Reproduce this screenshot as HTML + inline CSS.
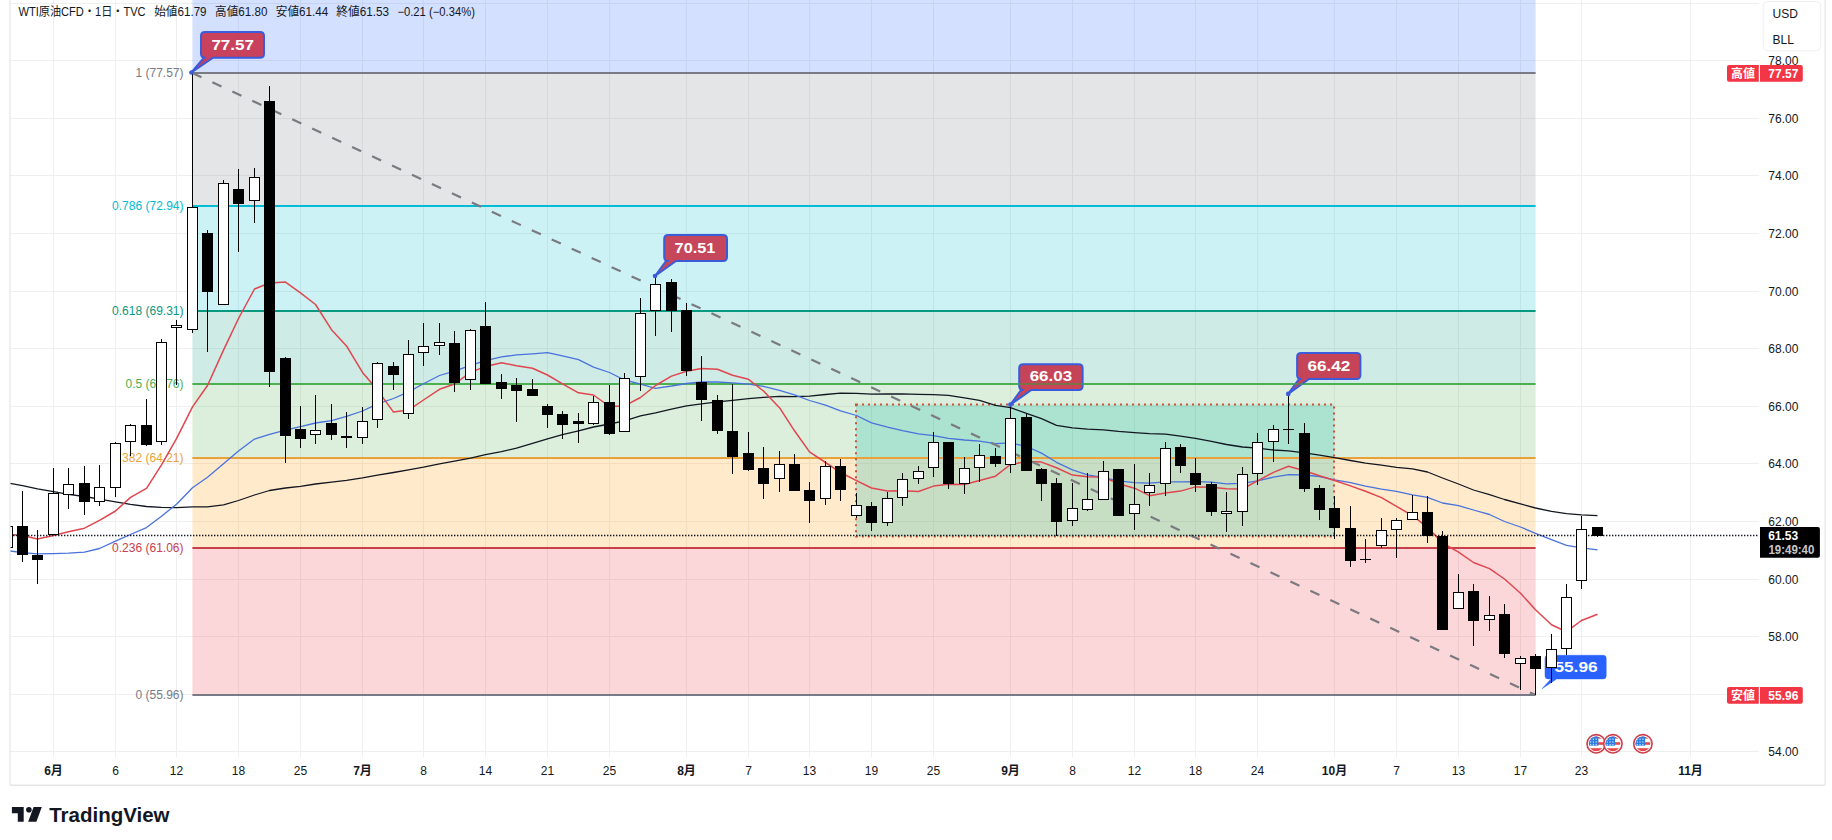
<!DOCTYPE html><html><head><meta charset="utf-8"><title>WTI原油CFD</title><style>html,body{margin:0;padding:0;background:#fff}body{width:1832px;height:840px;overflow:hidden}svg{display:block}text{font-family:"Liberation Sans","Noto Sans CJK JP",sans-serif}</style></head><body>
<svg width="1832" height="840" viewBox="0 0 1832 840">
<rect width="1832" height="840" fill="#fff"/>
<defs><clipPath id="pane"><rect x="10" y="0" width="1749" height="757"/></clipPath></defs>
<g clip-path="url(#pane)">
<line x1="53.5" y1="0" x2="53.5" y2="757" stroke="#efefef" stroke-width="1"/>
<line x1="115.5" y1="0" x2="115.5" y2="757" stroke="#efefef" stroke-width="1"/>
<line x1="176.5" y1="0" x2="176.5" y2="757" stroke="#efefef" stroke-width="1"/>
<line x1="238.5" y1="0" x2="238.5" y2="757" stroke="#efefef" stroke-width="1"/>
<line x1="300.5" y1="0" x2="300.5" y2="757" stroke="#efefef" stroke-width="1"/>
<line x1="362.5" y1="0" x2="362.5" y2="757" stroke="#efefef" stroke-width="1"/>
<line x1="423.5" y1="0" x2="423.5" y2="757" stroke="#efefef" stroke-width="1"/>
<line x1="485.5" y1="0" x2="485.5" y2="757" stroke="#efefef" stroke-width="1"/>
<line x1="547.5" y1="0" x2="547.5" y2="757" stroke="#efefef" stroke-width="1"/>
<line x1="609.5" y1="0" x2="609.5" y2="757" stroke="#efefef" stroke-width="1"/>
<line x1="686.5" y1="0" x2="686.5" y2="757" stroke="#efefef" stroke-width="1"/>
<line x1="748.5" y1="0" x2="748.5" y2="757" stroke="#efefef" stroke-width="1"/>
<line x1="809.5" y1="0" x2="809.5" y2="757" stroke="#efefef" stroke-width="1"/>
<line x1="871.5" y1="0" x2="871.5" y2="757" stroke="#efefef" stroke-width="1"/>
<line x1="933.5" y1="0" x2="933.5" y2="757" stroke="#efefef" stroke-width="1"/>
<line x1="1010.5" y1="0" x2="1010.5" y2="757" stroke="#efefef" stroke-width="1"/>
<line x1="1072.5" y1="0" x2="1072.5" y2="757" stroke="#efefef" stroke-width="1"/>
<line x1="1134.5" y1="0" x2="1134.5" y2="757" stroke="#efefef" stroke-width="1"/>
<line x1="1195.5" y1="0" x2="1195.5" y2="757" stroke="#efefef" stroke-width="1"/>
<line x1="1257.5" y1="0" x2="1257.5" y2="757" stroke="#efefef" stroke-width="1"/>
<line x1="1334.5" y1="0" x2="1334.5" y2="757" stroke="#efefef" stroke-width="1"/>
<line x1="1396.5" y1="0" x2="1396.5" y2="757" stroke="#efefef" stroke-width="1"/>
<line x1="1458.5" y1="0" x2="1458.5" y2="757" stroke="#efefef" stroke-width="1"/>
<line x1="1520.5" y1="0" x2="1520.5" y2="757" stroke="#efefef" stroke-width="1"/>
<line x1="1581.5" y1="0" x2="1581.5" y2="757" stroke="#efefef" stroke-width="1"/>
<line x1="1690.5" y1="0" x2="1690.5" y2="757" stroke="#efefef" stroke-width="1"/>
<line x1="10" y1="751.5" x2="1759" y2="751.5" stroke="#efefef" stroke-width="1"/>
<line x1="10" y1="694.5" x2="1759" y2="694.5" stroke="#efefef" stroke-width="1"/>
<line x1="10" y1="636.5" x2="1759" y2="636.5" stroke="#efefef" stroke-width="1"/>
<line x1="10" y1="579.5" x2="1759" y2="579.5" stroke="#efefef" stroke-width="1"/>
<line x1="10" y1="521.5" x2="1759" y2="521.5" stroke="#efefef" stroke-width="1"/>
<line x1="10" y1="463.5" x2="1759" y2="463.5" stroke="#efefef" stroke-width="1"/>
<line x1="10" y1="406.5" x2="1759" y2="406.5" stroke="#efefef" stroke-width="1"/>
<line x1="10" y1="348.5" x2="1759" y2="348.5" stroke="#efefef" stroke-width="1"/>
<line x1="10" y1="291.5" x2="1759" y2="291.5" stroke="#efefef" stroke-width="1"/>
<line x1="10" y1="233.5" x2="1759" y2="233.5" stroke="#efefef" stroke-width="1"/>
<line x1="10" y1="175.5" x2="1759" y2="175.5" stroke="#efefef" stroke-width="1"/>
<line x1="10" y1="118.5" x2="1759" y2="118.5" stroke="#efefef" stroke-width="1"/>
<line x1="10" y1="60.5" x2="1759" y2="60.5" stroke="#efefef" stroke-width="1"/>
<line x1="10" y1="3.5" x2="1759" y2="3.5" stroke="#efefef" stroke-width="1"/>
<rect x="192.4" y="0" width="1343.2" height="73.00" fill="rgba(41,98,255,0.2)"/>
<rect x="192.4" y="73" width="1343.2" height="133.00" fill="rgba(120,123,134,0.2)"/>
<rect x="192.4" y="206" width="1343.2" height="105.00" fill="rgba(0,188,212,0.2)"/>
<rect x="192.4" y="311" width="1343.2" height="73.00" fill="rgba(8,153,129,0.2)"/>
<rect x="192.4" y="384" width="1343.2" height="74.00" fill="rgba(76,175,80,0.2)"/>
<rect x="192.4" y="458" width="1343.2" height="90.00" fill="rgba(255,152,0,0.2)"/>
<rect x="192.4" y="548" width="1343.2" height="147.00" fill="rgba(242,54,69,0.2)"/>
<rect x="856" y="404.6" width="478" height="131.8" fill="rgba(0,180,170,0.22)"/>
<line x1="192.4" y1="73" x2="1535.6" y2="73" stroke="#787b86" stroke-width="2"/>
<line x1="192.4" y1="206" x2="1535.6" y2="206" stroke="#00bcd4" stroke-width="2"/>
<line x1="192.4" y1="311" x2="1535.6" y2="311" stroke="#089981" stroke-width="2"/>
<line x1="192.4" y1="384" x2="1535.6" y2="384" stroke="#4caf50" stroke-width="2"/>
<line x1="192.4" y1="458" x2="1535.6" y2="458" stroke="#e9a13b" stroke-width="2"/>
<line x1="192.4" y1="548" x2="1535.6" y2="548" stroke="#c8404c" stroke-width="2"/>
<line x1="192.4" y1="695" x2="1535.6" y2="695" stroke="#787b86" stroke-width="2"/>
<text x="183.5" y="77.2" font-size="12" fill="#787b86" text-anchor="end">1 (77.57)</text>
<text x="183.5" y="210.2" font-size="12" fill="#00bcd4" text-anchor="end">0.786 (72.94)</text>
<text x="183.5" y="315.2" font-size="12" fill="#089981" text-anchor="end">0.618 (69.31)</text>
<text x="183.5" y="388.2" font-size="12" fill="#4caf50" text-anchor="end">0.5 (66.76)</text>
<text x="183.5" y="462.2" font-size="12" fill="#e9a13b" text-anchor="end">0.382 (64.21)</text>
<text x="183.5" y="552.2" font-size="12" fill="#c8404c" text-anchor="end">0.236 (61.06)</text>
<text x="183.5" y="699.2" font-size="12" fill="#787b86" text-anchor="end">0 (55.96)</text>
<rect x="856" y="404.6" width="478" height="131.8" fill="none" stroke="#cf4f3a" stroke-width="2" stroke-dasharray="2 4"/>
<polyline points="10.0,483.4 22.5,485.7 37.5,488.9 53.5,491.7 68.5,494.3 84.5,496.5 99.5,499.2 115.5,501.9 130.5,504.4 146.5,506.5 161.5,507.4 176.5,507.6 192.5,506.8 207.5,506.9 223.5,504.8 238.5,500.5 254.5,495.0 269.5,490.5 285.5,488.0 300.5,486.3 315.5,484.0 331.5,482.2 346.5,480.4 362.5,477.9 377.5,475.1 393.5,472.5 408.5,469.9 423.5,467.2 439.5,463.9 454.5,461.2 470.5,458.2 485.5,454.7 501.5,451.6 516.5,448.1 532.5,443.3 547.5,438.8 562.5,434.6 578.5,430.9 593.5,427.0 609.5,424.0 624.5,420.8 640.5,415.9 655.5,412.9 671.5,409.1 686.5,405.9 701.5,403.9 717.5,401.9 732.5,400.3 748.5,398.7 763.5,397.3 779.5,396.4 794.5,396.6 809.5,396.2 825.5,394.5 840.5,393.1 856.5,393.3 871.5,394.1 887.5,394.0 902.5,393.8 918.5,394.4 933.5,394.7 948.5,395.4 964.5,397.9 979.5,400.4 995.5,405.3 1010.5,407.7 1026.5,413.3 1041.5,418.7 1056.5,425.3 1072.5,427.9 1087.5,429.1 1103.5,429.8 1118.5,431.4 1134.5,432.7 1149.5,433.6 1165.5,434.2 1180.5,436.1 1195.5,438.3 1211.5,441.3 1226.5,444.5 1242.5,447.0 1257.5,448.1 1273.5,450.0 1288.5,450.9 1304.5,452.9 1319.5,455.1 1334.5,457.7 1350.5,460.5 1365.5,463.1 1381.5,465.1 1396.5,467.4 1412.5,468.9 1427.5,472.0 1442.5,478.0 1458.5,484.0 1473.5,490.0 1489.5,494.7 1504.5,499.5 1520.5,503.9 1535.5,508.0 1551.5,511.4 1566.5,513.6 1581.5,514.9 1597.5,515.7" fill="none" stroke="#131722" stroke-width="1.3" stroke-linejoin="round"/>
<polyline points="10.0,551.0 22.5,552.6 37.5,553.9 53.5,553.7 68.5,553.2 84.5,552.1 99.5,548.5 115.5,541.2 130.5,534.5 146.5,527.6 161.5,516.2 176.5,504.2 192.5,487.7 207.5,477.3 223.5,463.8 238.5,451.0 254.5,439.1 269.5,434.4 285.5,430.2 300.5,426.7 315.5,423.0 331.5,420.7 346.5,416.4 362.5,411.0 377.5,403.9 393.5,398.5 408.5,391.9 423.5,383.8 439.5,375.5 454.5,371.2 470.5,365.3 485.5,360.7 501.5,356.9 516.5,354.9 532.5,353.8 547.5,352.6 562.5,355.8 578.5,359.6 593.5,367.1 609.5,372.5 624.5,380.0 640.5,384.2 655.5,388.3 671.5,386.0 686.5,383.5 701.5,382.0 717.5,382.0 732.5,382.8 748.5,384.1 763.5,386.4 779.5,390.3 794.5,394.8 809.5,400.5 825.5,405.1 840.5,410.8 856.5,415.5 871.5,422.9 887.5,427.2 902.5,430.7 918.5,433.8 933.5,435.6 948.5,438.3 964.5,440.0 979.5,441.2 995.5,443.6 1010.5,442.9 1026.5,446.5 1041.5,453.1 1056.5,462.3 1072.5,469.9 1087.5,474.8 1103.5,477.6 1118.5,480.8 1134.5,482.6 1149.5,483.2 1165.5,481.9 1180.5,481.9 1195.5,481.7 1211.5,482.1 1226.5,483.8 1242.5,483.3 1257.5,480.8 1273.5,477.2 1288.5,474.6 1304.5,475.0 1319.5,476.5 1334.5,479.8 1350.5,482.7 1365.5,486.2 1381.5,489.1 1396.5,491.3 1412.5,494.9 1427.5,497.4 1442.5,503.0 1458.5,505.7 1473.5,510.0 1489.5,514.5 1504.5,521.5 1520.5,527.0 1535.5,533.3 1551.5,539.6 1566.5,545.4 1581.5,547.8 1597.5,549.8" fill="none" stroke="#4a72dc" stroke-width="1.3" stroke-linejoin="round"/>
<polyline points="10.0,534.6 22.5,535.4 37.5,538.9 53.5,535.4 68.5,531.8 84.5,528.2 99.5,520.4 115.5,511.0 130.5,497.4 146.5,488.3 161.5,464.8 176.5,438.7 192.5,406.9 207.5,385.5 223.5,350.1 238.5,318.5 254.5,289.0 269.5,283.0 285.5,282.1 300.5,292.8 315.5,304.5 331.5,329.7 346.5,345.9 362.5,372.4 377.5,390.1 393.5,412.1 408.5,410.1 423.5,400.0 439.5,389.3 454.5,384.0 470.5,372.4 485.5,366.4 501.5,362.8 516.5,365.8 532.5,368.2 547.5,375.0 562.5,383.8 578.5,392.8 593.5,395.0 609.5,406.5 624.5,405.9 640.5,397.5 655.5,385.5 671.5,376.1 686.5,371.2 701.5,368.4 717.5,369.2 732.5,375.3 748.5,379.3 763.5,391.0 779.5,407.7 794.5,430.8 809.5,451.9 825.5,462.5 840.5,472.5 856.5,480.7 871.5,488.0 887.5,491.1 902.5,490.7 918.5,491.5 933.5,486.1 948.5,484.3 964.5,484.4 979.5,480.6 995.5,476.2 1010.5,464.5 1026.5,461.6 1041.5,462.1 1056.5,467.7 1072.5,475.1 1087.5,476.7 1103.5,477.0 1118.5,483.8 1134.5,488.2 1149.5,495.7 1165.5,493.1 1180.5,491.1 1195.5,486.9 1211.5,487.3 1226.5,488.7 1242.5,489.0 1257.5,480.8 1273.5,472.4 1288.5,466.3 1304.5,470.8 1319.5,475.7 1334.5,480.5 1350.5,485.9 1365.5,491.3 1381.5,497.6 1396.5,506.4 1412.5,515.6 1427.5,527.3 1442.5,543.0 1458.5,552.2 1473.5,562.5 1489.5,568.6 1504.5,579.0 1520.5,593.2 1535.5,609.7 1551.5,624.8 1566.5,631.7 1581.5,620.5 1597.5,614.2" fill="none" stroke="#e0464f" stroke-width="1.5" stroke-linejoin="round"/>
<line x1="192.4" y1="73" x2="1535.5" y2="695" stroke="#7a7a80" stroke-width="2.2" stroke-dasharray="10 12"/>
<line x1="10" y1="535.5" x2="1759" y2="535.5" stroke="#131722" stroke-width="1.4" stroke-dasharray="1.4 1.6"/>
<path d="M1548,655.3 H1603.2 Q1606.2,655.3 1606.2,658.3 V675.9 Q1606.2,678.9 1603.2,678.9 H1556.5 L1542.1,688.7 L1551,678.9 H1548 Q1545,678.9 1545,675.9 V658.3 Q1545,655.3 1548,655.3 Z" fill="#2962ff" stroke="#2962ff" stroke-width="0.5" stroke-linejoin="round"/><text x="1554.4" y="671.6" font-size="15" font-weight="bold" fill="#fff" textLength="43.2" lengthAdjust="spacingAndGlyphs">55.96</text>
<rect x="7.0" y="520" width="1" height="30" fill="#000"/>
<rect x="2.0" y="526" width="11" height="22" fill="#000"/>
<rect x="3.0" y="527" width="9" height="20" fill="#fff"/>
<rect x="22.0" y="491" width="1" height="71" fill="#000"/>
<rect x="17.0" y="526" width="11" height="29" fill="#000"/>
<rect x="37.0" y="530" width="1" height="54" fill="#000"/>
<rect x="32.0" y="555" width="11" height="5" fill="#000"/>
<rect x="53.0" y="468" width="1" height="67" fill="#000"/>
<rect x="48.0" y="493" width="11" height="42" fill="#000"/>
<rect x="49.0" y="494" width="9" height="40" fill="#fff"/>
<rect x="68.0" y="468" width="1" height="41" fill="#000"/>
<rect x="63.0" y="484" width="11" height="11" fill="#000"/>
<rect x="64.0" y="485" width="9" height="9" fill="#fff"/>
<rect x="84.0" y="466" width="1" height="49" fill="#000"/>
<rect x="79.0" y="483" width="11" height="19" fill="#000"/>
<rect x="99.0" y="465" width="1" height="41" fill="#000"/>
<rect x="94.0" y="487" width="11" height="15" fill="#000"/>
<rect x="95.0" y="488" width="9" height="13" fill="#fff"/>
<rect x="115.0" y="442" width="1" height="55" fill="#000"/>
<rect x="110.0" y="443" width="11" height="45" fill="#000"/>
<rect x="111.0" y="444" width="9" height="43" fill="#fff"/>
<rect x="130.0" y="424" width="1" height="32" fill="#000"/>
<rect x="125.0" y="425" width="11" height="17" fill="#000"/>
<rect x="126.0" y="426" width="9" height="15" fill="#fff"/>
<rect x="146.0" y="399" width="1" height="47" fill="#000"/>
<rect x="141.0" y="425" width="11" height="20" fill="#000"/>
<rect x="161.0" y="339" width="1" height="106" fill="#000"/>
<rect x="156.0" y="342" width="11" height="100" fill="#000"/>
<rect x="157.0" y="343" width="9" height="98" fill="#fff"/>
<rect x="176.0" y="320" width="1" height="65" fill="#000"/>
<rect x="171.0" y="325" width="11" height="3" fill="#000"/>
<rect x="172.0" y="326" width="9" height="1" fill="#fff"/>
<rect x="192.0" y="73" width="1" height="260" fill="#000"/>
<rect x="187.0" y="207" width="11" height="123" fill="#000"/>
<rect x="188.0" y="208" width="9" height="121" fill="#fff"/>
<rect x="207.0" y="230" width="1" height="122" fill="#000"/>
<rect x="202.0" y="233" width="11" height="59" fill="#000"/>
<rect x="223.0" y="180" width="1" height="125" fill="#000"/>
<rect x="218.0" y="183" width="11" height="122" fill="#000"/>
<rect x="219.0" y="184" width="9" height="120" fill="#fff"/>
<rect x="238.0" y="169" width="1" height="83" fill="#000"/>
<rect x="233.0" y="189" width="11" height="15" fill="#000"/>
<rect x="254.0" y="168" width="1" height="55" fill="#000"/>
<rect x="249.0" y="177" width="11" height="24" fill="#000"/>
<rect x="250.0" y="178" width="9" height="22" fill="#fff"/>
<rect x="269.0" y="86" width="1" height="301" fill="#000"/>
<rect x="264.0" y="101" width="11" height="271" fill="#000"/>
<rect x="285.0" y="357" width="1" height="106" fill="#000"/>
<rect x="280.0" y="358" width="11" height="78" fill="#000"/>
<rect x="300.0" y="406" width="1" height="42" fill="#000"/>
<rect x="295.0" y="429" width="11" height="10" fill="#000"/>
<rect x="315.0" y="395" width="1" height="49" fill="#000"/>
<rect x="310.0" y="430" width="11" height="5" fill="#000"/>
<rect x="311.0" y="431" width="9" height="3" fill="#fff"/>
<rect x="331.0" y="404" width="1" height="36" fill="#000"/>
<rect x="326.0" y="423" width="11" height="12" fill="#000"/>
<rect x="346.0" y="412" width="1" height="36" fill="#000"/>
<rect x="341.0" y="436" width="11" height="2" fill="#000"/>
<rect x="362.0" y="407" width="1" height="37" fill="#000"/>
<rect x="357.0" y="421" width="11" height="17" fill="#000"/>
<rect x="358.0" y="422" width="9" height="15" fill="#fff"/>
<rect x="377.0" y="362" width="1" height="66" fill="#000"/>
<rect x="372.0" y="363" width="11" height="57" fill="#000"/>
<rect x="373.0" y="364" width="9" height="55" fill="#fff"/>
<rect x="393.0" y="362" width="1" height="28" fill="#000"/>
<rect x="388.0" y="366" width="11" height="9" fill="#000"/>
<rect x="408.0" y="340" width="1" height="79" fill="#000"/>
<rect x="403.0" y="354" width="11" height="60" fill="#000"/>
<rect x="404.0" y="355" width="9" height="58" fill="#fff"/>
<rect x="423.0" y="323" width="1" height="43" fill="#000"/>
<rect x="418.0" y="346" width="11" height="7" fill="#000"/>
<rect x="419.0" y="347" width="9" height="5" fill="#fff"/>
<rect x="439.0" y="323" width="1" height="32" fill="#000"/>
<rect x="434.0" y="342" width="11" height="4" fill="#000"/>
<rect x="435.0" y="343" width="9" height="2" fill="#fff"/>
<rect x="454.0" y="331" width="1" height="61" fill="#000"/>
<rect x="449.0" y="343" width="11" height="40" fill="#000"/>
<rect x="470.0" y="329" width="1" height="61" fill="#000"/>
<rect x="465.0" y="330" width="11" height="50" fill="#000"/>
<rect x="466.0" y="331" width="9" height="48" fill="#fff"/>
<rect x="485.0" y="302" width="1" height="82" fill="#000"/>
<rect x="480.0" y="326" width="11" height="58" fill="#000"/>
<rect x="501.0" y="374" width="1" height="25" fill="#000"/>
<rect x="496.0" y="382" width="11" height="7" fill="#000"/>
<rect x="516.0" y="378" width="1" height="44" fill="#000"/>
<rect x="511.0" y="385" width="11" height="6" fill="#000"/>
<rect x="532.0" y="379" width="1" height="17" fill="#000"/>
<rect x="527.0" y="389" width="11" height="7" fill="#000"/>
<rect x="547.0" y="404" width="1" height="24" fill="#000"/>
<rect x="542.0" y="406" width="11" height="9" fill="#000"/>
<rect x="562.0" y="411" width="1" height="28" fill="#000"/>
<rect x="557.0" y="414" width="11" height="11" fill="#000"/>
<rect x="578.0" y="413" width="1" height="30" fill="#000"/>
<rect x="573.0" y="421" width="11" height="3" fill="#000"/>
<rect x="593.0" y="396" width="1" height="29" fill="#000"/>
<rect x="588.0" y="402" width="11" height="22" fill="#000"/>
<rect x="589.0" y="403" width="9" height="20" fill="#fff"/>
<rect x="609.0" y="385" width="1" height="50" fill="#000"/>
<rect x="604.0" y="402" width="11" height="32" fill="#000"/>
<rect x="624.0" y="373" width="1" height="59" fill="#000"/>
<rect x="619.0" y="378" width="11" height="54" fill="#000"/>
<rect x="620.0" y="379" width="9" height="52" fill="#fff"/>
<rect x="640.0" y="298" width="1" height="93" fill="#000"/>
<rect x="635.0" y="313" width="11" height="64" fill="#000"/>
<rect x="636.0" y="314" width="9" height="62" fill="#fff"/>
<rect x="655.0" y="276" width="1" height="60" fill="#000"/>
<rect x="650.0" y="284" width="11" height="27" fill="#000"/>
<rect x="651.0" y="285" width="9" height="25" fill="#fff"/>
<rect x="671.0" y="279" width="1" height="53" fill="#000"/>
<rect x="666.0" y="282" width="11" height="29" fill="#000"/>
<rect x="686.0" y="303" width="1" height="73" fill="#000"/>
<rect x="681.0" y="310" width="11" height="61" fill="#000"/>
<rect x="701.0" y="356" width="1" height="65" fill="#000"/>
<rect x="696.0" y="382" width="11" height="18" fill="#000"/>
<rect x="717.0" y="395" width="1" height="39" fill="#000"/>
<rect x="712.0" y="400" width="11" height="31" fill="#000"/>
<rect x="732.0" y="384" width="1" height="90" fill="#000"/>
<rect x="727.0" y="431" width="11" height="26" fill="#000"/>
<rect x="748.0" y="432" width="1" height="39" fill="#000"/>
<rect x="743.0" y="453" width="11" height="17" fill="#000"/>
<rect x="763.0" y="447" width="1" height="52" fill="#000"/>
<rect x="758.0" y="468" width="11" height="16" fill="#000"/>
<rect x="779.0" y="451" width="1" height="41" fill="#000"/>
<rect x="774.0" y="464" width="11" height="15" fill="#000"/>
<rect x="775.0" y="465" width="9" height="13" fill="#fff"/>
<rect x="794.0" y="454" width="1" height="37" fill="#000"/>
<rect x="789.0" y="464" width="11" height="27" fill="#000"/>
<rect x="809.0" y="482" width="1" height="41" fill="#000"/>
<rect x="804.0" y="490" width="11" height="11" fill="#000"/>
<rect x="825.0" y="461" width="1" height="44" fill="#000"/>
<rect x="820.0" y="466" width="11" height="33" fill="#000"/>
<rect x="821.0" y="467" width="9" height="31" fill="#fff"/>
<rect x="840.0" y="459" width="1" height="42" fill="#000"/>
<rect x="835.0" y="466" width="11" height="24" fill="#000"/>
<rect x="856.0" y="493" width="1" height="25" fill="#000"/>
<rect x="851.0" y="505" width="11" height="11" fill="#000"/>
<rect x="852.0" y="506" width="9" height="9" fill="#fff"/>
<rect x="871.0" y="502" width="1" height="29" fill="#000"/>
<rect x="866.0" y="506" width="11" height="17" fill="#000"/>
<rect x="887.0" y="492" width="1" height="34" fill="#000"/>
<rect x="882.0" y="498" width="11" height="25" fill="#000"/>
<rect x="883.0" y="499" width="9" height="23" fill="#fff"/>
<rect x="902.0" y="473" width="1" height="33" fill="#000"/>
<rect x="897.0" y="479" width="11" height="19" fill="#000"/>
<rect x="898.0" y="480" width="9" height="17" fill="#fff"/>
<rect x="918.0" y="466" width="1" height="18" fill="#000"/>
<rect x="913.0" y="471" width="11" height="8" fill="#000"/>
<rect x="914.0" y="472" width="9" height="6" fill="#fff"/>
<rect x="933.0" y="432" width="1" height="45" fill="#000"/>
<rect x="928.0" y="442" width="11" height="26" fill="#000"/>
<rect x="929.0" y="443" width="9" height="24" fill="#fff"/>
<rect x="948.0" y="442" width="1" height="47" fill="#000"/>
<rect x="943.0" y="442" width="11" height="42" fill="#000"/>
<rect x="964.0" y="457" width="1" height="37" fill="#000"/>
<rect x="959.0" y="468" width="11" height="16" fill="#000"/>
<rect x="960.0" y="469" width="9" height="14" fill="#fff"/>
<rect x="979.0" y="444" width="1" height="38" fill="#000"/>
<rect x="974.0" y="455" width="11" height="13" fill="#000"/>
<rect x="975.0" y="456" width="9" height="11" fill="#fff"/>
<rect x="995.0" y="448" width="1" height="19" fill="#000"/>
<rect x="990.0" y="456" width="11" height="8" fill="#000"/>
<rect x="1010.0" y="405" width="1" height="68" fill="#000"/>
<rect x="1005.0" y="418" width="11" height="47" fill="#000"/>
<rect x="1006.0" y="419" width="9" height="45" fill="#fff"/>
<rect x="1026.0" y="414" width="1" height="57" fill="#000"/>
<rect x="1021.0" y="417" width="11" height="54" fill="#000"/>
<rect x="1041.0" y="468" width="1" height="33" fill="#000"/>
<rect x="1036.0" y="469" width="11" height="15" fill="#000"/>
<rect x="1056.0" y="478" width="1" height="58" fill="#000"/>
<rect x="1051.0" y="483" width="11" height="39" fill="#000"/>
<rect x="1072.0" y="483" width="1" height="43" fill="#000"/>
<rect x="1067.0" y="508" width="11" height="13" fill="#000"/>
<rect x="1068.0" y="509" width="9" height="11" fill="#fff"/>
<rect x="1087.0" y="473" width="1" height="38" fill="#000"/>
<rect x="1082.0" y="499" width="11" height="11" fill="#000"/>
<rect x="1083.0" y="500" width="9" height="9" fill="#fff"/>
<rect x="1103.0" y="461" width="1" height="39" fill="#000"/>
<rect x="1098.0" y="471" width="11" height="29" fill="#000"/>
<rect x="1099.0" y="472" width="9" height="27" fill="#fff"/>
<rect x="1118.0" y="469" width="1" height="47" fill="#000"/>
<rect x="1113.0" y="469" width="11" height="47" fill="#000"/>
<rect x="1134.0" y="464" width="1" height="66" fill="#000"/>
<rect x="1129.0" y="504" width="11" height="10" fill="#000"/>
<rect x="1130.0" y="505" width="9" height="8" fill="#fff"/>
<rect x="1149.0" y="473" width="1" height="33" fill="#000"/>
<rect x="1144.0" y="485" width="11" height="8" fill="#000"/>
<rect x="1145.0" y="486" width="9" height="6" fill="#fff"/>
<rect x="1165.0" y="442" width="1" height="54" fill="#000"/>
<rect x="1160.0" y="448" width="11" height="36" fill="#000"/>
<rect x="1161.0" y="449" width="9" height="34" fill="#fff"/>
<rect x="1180.0" y="444" width="1" height="29" fill="#000"/>
<rect x="1175.0" y="447" width="11" height="19" fill="#000"/>
<rect x="1195.0" y="458" width="1" height="34" fill="#000"/>
<rect x="1190.0" y="473" width="11" height="12" fill="#000"/>
<rect x="1211.0" y="482" width="1" height="34" fill="#000"/>
<rect x="1206.0" y="484" width="11" height="28" fill="#000"/>
<rect x="1226.0" y="492" width="1" height="40" fill="#000"/>
<rect x="1221.0" y="511" width="11" height="3" fill="#000"/>
<rect x="1222.0" y="512" width="9" height="1" fill="#fff"/>
<rect x="1242.0" y="467" width="1" height="59" fill="#000"/>
<rect x="1237.0" y="474" width="11" height="38" fill="#000"/>
<rect x="1238.0" y="475" width="9" height="36" fill="#fff"/>
<rect x="1257.0" y="433" width="1" height="52" fill="#000"/>
<rect x="1252.0" y="442" width="11" height="32" fill="#000"/>
<rect x="1253.0" y="443" width="9" height="30" fill="#fff"/>
<rect x="1273.0" y="425" width="1" height="37" fill="#000"/>
<rect x="1268.0" y="429" width="11" height="13" fill="#000"/>
<rect x="1269.0" y="430" width="9" height="11" fill="#fff"/>
<rect x="1288.0" y="395" width="1" height="49" fill="#000"/>
<rect x="1283.0" y="429" width="11" height="1" fill="#000"/>
<rect x="1304.0" y="423" width="1" height="69" fill="#000"/>
<rect x="1299.0" y="433" width="11" height="56" fill="#000"/>
<rect x="1319.0" y="485" width="1" height="35" fill="#000"/>
<rect x="1314.0" y="488" width="11" height="22" fill="#000"/>
<rect x="1334.0" y="496" width="1" height="43" fill="#000"/>
<rect x="1329.0" y="508" width="11" height="20" fill="#000"/>
<rect x="1350.0" y="506" width="1" height="61" fill="#000"/>
<rect x="1345.0" y="528" width="11" height="33" fill="#000"/>
<rect x="1365.0" y="539" width="1" height="24" fill="#000"/>
<rect x="1360.0" y="559" width="11" height="1" fill="#000"/>
<rect x="1381.0" y="518" width="1" height="30" fill="#000"/>
<rect x="1376.0" y="530" width="11" height="16" fill="#000"/>
<rect x="1377.0" y="531" width="9" height="14" fill="#fff"/>
<rect x="1396.0" y="518" width="1" height="40" fill="#000"/>
<rect x="1391.0" y="520" width="11" height="10" fill="#000"/>
<rect x="1392.0" y="521" width="9" height="8" fill="#fff"/>
<rect x="1412.0" y="495" width="1" height="25" fill="#000"/>
<rect x="1407.0" y="512" width="11" height="8" fill="#000"/>
<rect x="1408.0" y="513" width="9" height="6" fill="#fff"/>
<rect x="1427.0" y="496" width="1" height="47" fill="#000"/>
<rect x="1422.0" y="512" width="11" height="24" fill="#000"/>
<rect x="1442.0" y="531" width="1" height="99" fill="#000"/>
<rect x="1437.0" y="536" width="11" height="94" fill="#000"/>
<rect x="1458.0" y="574" width="1" height="35" fill="#000"/>
<rect x="1453.0" y="592" width="11" height="17" fill="#000"/>
<rect x="1454.0" y="593" width="9" height="15" fill="#fff"/>
<rect x="1473.0" y="584" width="1" height="62" fill="#000"/>
<rect x="1468.0" y="591" width="11" height="30" fill="#000"/>
<rect x="1489.0" y="596" width="1" height="35" fill="#000"/>
<rect x="1484.0" y="615" width="11" height="5" fill="#000"/>
<rect x="1485.0" y="616" width="9" height="3" fill="#fff"/>
<rect x="1504.0" y="604" width="1" height="54" fill="#000"/>
<rect x="1499.0" y="614" width="11" height="40" fill="#000"/>
<rect x="1520.0" y="656" width="1" height="34" fill="#000"/>
<rect x="1515.0" y="658" width="11" height="6" fill="#000"/>
<rect x="1516.0" y="659" width="9" height="4" fill="#fff"/>
<rect x="1535.0" y="654" width="1" height="41" fill="#000"/>
<rect x="1530.0" y="656" width="11" height="13" fill="#000"/>
<rect x="1551.0" y="634" width="1" height="49" fill="#000"/>
<rect x="1546.0" y="649" width="11" height="19" fill="#000"/>
<rect x="1547.0" y="650" width="9" height="17" fill="#fff"/>
<rect x="1566.0" y="584" width="1" height="71" fill="#000"/>
<rect x="1561.0" y="597" width="11" height="52" fill="#000"/>
<rect x="1562.0" y="598" width="9" height="50" fill="#fff"/>
<rect x="1581.0" y="516" width="1" height="73" fill="#000"/>
<rect x="1576.0" y="529" width="11" height="52" fill="#000"/>
<rect x="1577.0" y="530" width="9" height="50" fill="#fff"/>
<rect x="1597.0" y="527" width="1" height="10" fill="#000"/>
<rect x="1592.0" y="527" width="11" height="9" fill="#000"/>
<path d="M205,32.1 H260 Q264,32.1 264,36.1 V53.7 Q264,57.7 260,57.7 H213 L191.4,72.5 L204,57.7 H205 Q201,57.7 201,53.7 V36.1 Q201,32.1 205,32.1 Z" fill="rgba(196,26,52,0.8)" stroke="#3b5bdb" stroke-width="2" stroke-linejoin="round"/><circle cx="191.4" cy="72.5" r="2.3" fill="#3b5bdb"/><text x="211.4" y="49.8" font-size="15" font-weight="bold" fill="#fff" textLength="42.6" lengthAdjust="spacingAndGlyphs">77.57</text>
<path d="M668.2,235.1 H723 Q727,235.1 727,239.1 V257 Q727,261 723,261 H676 L655,276 L666,261 H668.2 Q664.2,261 664.2,257 V239.1 Q664.2,235.1 668.2,235.1 Z" fill="rgba(196,26,52,0.8)" stroke="#3b5bdb" stroke-width="2" stroke-linejoin="round"/><circle cx="655" cy="276" r="2.3" fill="#3b5bdb"/><text x="674.6" y="253.0" font-size="15" font-weight="bold" fill="#fff" textLength="40.8" lengthAdjust="spacingAndGlyphs">70.51</text>
<path d="M1023.2,364.2 H1078.6 Q1082.6,364.2 1082.6,368.2 V386.1 Q1082.6,390.1 1078.6,390.1 H1031 L1010.4,404.6 L1021,390.1 H1023.2 Q1019.2,390.1 1019.2,386.1 V368.2 Q1019.2,364.2 1023.2,364.2 Z" fill="rgba(196,26,52,0.8)" stroke="#3b5bdb" stroke-width="2" stroke-linejoin="round"/><circle cx="1010.4" cy="404.6" r="2.3" fill="#3b5bdb"/><text x="1029.7" y="381.4" font-size="15" font-weight="bold" fill="#fff" textLength="42.4" lengthAdjust="spacingAndGlyphs">66.03</text>
<path d="M1301.1,352.9 H1356.4 Q1360.4,352.9 1360.4,356.9 V375 Q1360.4,379 1356.4,379 H1309 L1288.2,393.9 L1299,379 H1301.1 Q1297.1,379 1297.1,375 V356.9 Q1297.1,352.9 1301.1,352.9 Z" fill="rgba(196,26,52,0.8)" stroke="#3b5bdb" stroke-width="2" stroke-linejoin="round"/><circle cx="1288.2" cy="393.9" r="2.3" fill="#3b5bdb"/><text x="1307.5" y="370.9" font-size="15" font-weight="bold" fill="#fff" textLength="42.9" lengthAdjust="spacingAndGlyphs">66.42</text>
<line x1="1017.5" y1="384" x2="1084.5" y2="384" stroke="#4caf50" stroke-width="2" opacity="0.5"/>
<line x1="1289" y1="384" x2="1303" y2="384" stroke="#4caf50" stroke-width="2" opacity="0.5"/>
<text x="18.5" y="15.8" font-size="12" fill="#131722" textLength="127.1" lengthAdjust="spacingAndGlyphs">WTI原油CFD・1日・TVC</text>
<text x="154.2" y="15.8" font-size="12" fill="#131722" textLength="52.4" lengthAdjust="spacingAndGlyphs">始値61.79</text>
<text x="215.1" y="15.8" font-size="12" fill="#131722" textLength="52.3" lengthAdjust="spacingAndGlyphs">高値61.80</text>
<text x="275.8" y="15.8" font-size="12" fill="#131722" textLength="52.5" lengthAdjust="spacingAndGlyphs">安値61.44</text>
<text x="336.2" y="15.8" font-size="12" fill="#131722" textLength="52.8" lengthAdjust="spacingAndGlyphs">終値61.53</text>
<text x="397.4" y="15.8" font-size="12" fill="#131722" textLength="77.6" lengthAdjust="spacingAndGlyphs">−0.21 (−0.34%)</text>
</g>
<g><circle cx="1596.2" cy="743.8" r="9.2" fill="#fff" stroke="#cf3d4a" stroke-width="1.6"/><clipPath id="fc1596"><circle cx="1596.2" cy="743.8" r="7.4"/></clipPath><g clip-path="url(#fc1596)"><rect x="1588.2" y="735.8" width="16" height="16" fill="#fff"/><rect x="1588.2" y="736.0" width="17" height="2.6" fill="#e8474a"/><rect x="1588.2" y="742.1999999999999" width="17" height="2.6" fill="#e8474a"/><rect x="1588.2" y="748.1999999999999" width="17" height="4" fill="#e8474a"/><rect x="1588.2" y="735.8" width="10.2" height="9.9" fill="#2f7de1"/><rect x="1590.0" y="738.6" width="1.2" height="1.2" fill="#cfe3ff"/><rect x="1590.0" y="741.4" width="1.2" height="1.2" fill="#cfe3ff"/><rect x="1590.0" y="744.1" width="1.2" height="1.2" fill="#cfe3ff"/><rect x="1592.8" y="738.6" width="1.2" height="1.2" fill="#cfe3ff"/><rect x="1592.8" y="741.4" width="1.2" height="1.2" fill="#cfe3ff"/><rect x="1592.8" y="744.1" width="1.2" height="1.2" fill="#cfe3ff"/><rect x="1595.6" y="738.6" width="1.2" height="1.2" fill="#cfe3ff"/><rect x="1595.6" y="741.4" width="1.2" height="1.2" fill="#cfe3ff"/><rect x="1595.6" y="744.1" width="1.2" height="1.2" fill="#cfe3ff"/></g></g>
<g><circle cx="1612.9" cy="743.8" r="9.2" fill="#fff" stroke="#cf3d4a" stroke-width="1.6"/><clipPath id="fc1612"><circle cx="1612.9" cy="743.8" r="7.4"/></clipPath><g clip-path="url(#fc1612)"><rect x="1604.9" y="735.8" width="16" height="16" fill="#fff"/><rect x="1604.9" y="736.0" width="17" height="2.6" fill="#e8474a"/><rect x="1604.9" y="742.1999999999999" width="17" height="2.6" fill="#e8474a"/><rect x="1604.9" y="748.1999999999999" width="17" height="4" fill="#e8474a"/><rect x="1604.9" y="735.8" width="10.2" height="9.9" fill="#2f7de1"/><rect x="1606.7" y="738.6" width="1.2" height="1.2" fill="#cfe3ff"/><rect x="1606.7" y="741.4" width="1.2" height="1.2" fill="#cfe3ff"/><rect x="1606.7" y="744.1" width="1.2" height="1.2" fill="#cfe3ff"/><rect x="1609.5" y="738.6" width="1.2" height="1.2" fill="#cfe3ff"/><rect x="1609.5" y="741.4" width="1.2" height="1.2" fill="#cfe3ff"/><rect x="1609.5" y="744.1" width="1.2" height="1.2" fill="#cfe3ff"/><rect x="1612.3" y="738.6" width="1.2" height="1.2" fill="#cfe3ff"/><rect x="1612.3" y="741.4" width="1.2" height="1.2" fill="#cfe3ff"/><rect x="1612.3" y="744.1" width="1.2" height="1.2" fill="#cfe3ff"/></g></g>
<g><circle cx="1642.9" cy="743.8" r="9.2" fill="#fff" stroke="#cf3d4a" stroke-width="1.6"/><clipPath id="fc1642"><circle cx="1642.9" cy="743.8" r="7.4"/></clipPath><g clip-path="url(#fc1642)"><rect x="1634.9" y="735.8" width="16" height="16" fill="#fff"/><rect x="1634.9" y="736.0" width="17" height="2.6" fill="#e8474a"/><rect x="1634.9" y="742.1999999999999" width="17" height="2.6" fill="#e8474a"/><rect x="1634.9" y="748.1999999999999" width="17" height="4" fill="#e8474a"/><rect x="1634.9" y="735.8" width="10.2" height="9.9" fill="#2f7de1"/><rect x="1636.7" y="738.6" width="1.2" height="1.2" fill="#cfe3ff"/><rect x="1636.7" y="741.4" width="1.2" height="1.2" fill="#cfe3ff"/><rect x="1636.7" y="744.1" width="1.2" height="1.2" fill="#cfe3ff"/><rect x="1639.5" y="738.6" width="1.2" height="1.2" fill="#cfe3ff"/><rect x="1639.5" y="741.4" width="1.2" height="1.2" fill="#cfe3ff"/><rect x="1639.5" y="744.1" width="1.2" height="1.2" fill="#cfe3ff"/><rect x="1642.3" y="738.6" width="1.2" height="1.2" fill="#cfe3ff"/><rect x="1642.3" y="741.4" width="1.2" height="1.2" fill="#cfe3ff"/><rect x="1642.3" y="744.1" width="1.2" height="1.2" fill="#cfe3ff"/></g></g>
<line x1="10" y1="0" x2="10" y2="785" stroke="#e6e6e6" stroke-width="1.2"/>
<line x1="10" y1="785.2" x2="1825" y2="785.2" stroke="#e6e6e6" stroke-width="1.4"/>
<line x1="1825.2" y1="0" x2="1825.2" y2="785" stroke="#ececec" stroke-width="1.6"/>
<text x="1768.3" y="756.3" font-size="12" fill="#131722">54.00</text>
<text x="1768.3" y="641.1" font-size="12" fill="#131722">58.00</text>
<text x="1768.3" y="583.5" font-size="12" fill="#131722">60.00</text>
<text x="1768.3" y="525.9" font-size="12" fill="#131722">62.00</text>
<text x="1768.3" y="468.3" font-size="12" fill="#131722">64.00</text>
<text x="1768.3" y="410.7" font-size="12" fill="#131722">66.00</text>
<text x="1768.3" y="353.1" font-size="12" fill="#131722">68.00</text>
<text x="1768.3" y="295.5" font-size="12" fill="#131722">70.00</text>
<text x="1768.3" y="237.9" font-size="12" fill="#131722">72.00</text>
<text x="1768.3" y="180.3" font-size="12" fill="#131722">74.00</text>
<text x="1768.3" y="122.7" font-size="12" fill="#131722">76.00</text>
<text x="1768.3" y="65.1" font-size="12" fill="#131722">78.00</text>
<rect x="1763.2" y="1.5" width="57.5" height="49.3" rx="4.5" fill="#fff" stroke="#eeeff2" stroke-width="1"/>
<text x="1772.5" y="17.9" font-size="12" fill="#131722">USD</text>
<text x="1772.5" y="43.7" font-size="12" fill="#131722">BLL</text>
<path d="M1729,65.1 H1758.8 V81.69999999999999 H1729 Q1727,81.69999999999999 1727,79.69999999999999 V67.1 Q1727,65.1 1729,65.1 Z" fill="#f23645"/><path d="M1760,65.1 H1800.8 Q1802.8,65.1 1802.8,67.1 V79.69999999999999 Q1802.8,81.69999999999999 1800.8,81.69999999999999 H1760 Z" fill="#f23645"/><text x="1743" y="77.69999999999999" font-size="12" font-weight="bold" fill="#fff" text-anchor="middle">高値</text><text x="1768.3" y="77.69999999999999" font-size="12" font-weight="bold" fill="#fff">77.57</text>
<path d="M1729,687.1 H1758.8 V703.7 H1729 Q1727,703.7 1727,701.7 V689.1 Q1727,687.1 1729,687.1 Z" fill="#f23645"/><path d="M1760,687.1 H1800.8 Q1802.8,687.1 1802.8,689.1 V701.7 Q1802.8,703.7 1800.8,703.7 H1760 Z" fill="#f23645"/><text x="1743" y="699.7" font-size="12" font-weight="bold" fill="#fff" text-anchor="middle">安値</text><text x="1768.3" y="699.7" font-size="12" font-weight="bold" fill="#fff">55.96</text>
<path d="M1760,527 H1817.9 Q1819.9,527 1819.9,529 V555.7 Q1819.9,557.7 1817.9,557.7 H1760 Z" fill="#000"/>
<text x="1768.2" y="539.9" font-size="12" font-weight="bold" fill="#fff">61.53</text>
<text x="1768.4" y="553.9" font-size="12" font-weight="bold" fill="#c8c8c8" textLength="46" lengthAdjust="spacingAndGlyphs">19:49:40</text>
<text x="53.5" y="775" font-size="12" fill="#131722" text-anchor="middle" font-weight="bold">6月</text>
<text x="115.5" y="775" font-size="12" fill="#131722" text-anchor="middle">6</text>
<text x="176.5" y="775" font-size="12" fill="#131722" text-anchor="middle">12</text>
<text x="238.5" y="775" font-size="12" fill="#131722" text-anchor="middle">18</text>
<text x="300.5" y="775" font-size="12" fill="#131722" text-anchor="middle">25</text>
<text x="362.5" y="775" font-size="12" fill="#131722" text-anchor="middle" font-weight="bold">7月</text>
<text x="423.5" y="775" font-size="12" fill="#131722" text-anchor="middle">8</text>
<text x="485.5" y="775" font-size="12" fill="#131722" text-anchor="middle">14</text>
<text x="547.5" y="775" font-size="12" fill="#131722" text-anchor="middle">21</text>
<text x="609.5" y="775" font-size="12" fill="#131722" text-anchor="middle">25</text>
<text x="686.5" y="775" font-size="12" fill="#131722" text-anchor="middle" font-weight="bold">8月</text>
<text x="748.5" y="775" font-size="12" fill="#131722" text-anchor="middle">7</text>
<text x="809.5" y="775" font-size="12" fill="#131722" text-anchor="middle">13</text>
<text x="871.5" y="775" font-size="12" fill="#131722" text-anchor="middle">19</text>
<text x="933.5" y="775" font-size="12" fill="#131722" text-anchor="middle">25</text>
<text x="1010.5" y="775" font-size="12" fill="#131722" text-anchor="middle" font-weight="bold">9月</text>
<text x="1072.5" y="775" font-size="12" fill="#131722" text-anchor="middle">8</text>
<text x="1134.5" y="775" font-size="12" fill="#131722" text-anchor="middle">12</text>
<text x="1195.5" y="775" font-size="12" fill="#131722" text-anchor="middle">18</text>
<text x="1257.5" y="775" font-size="12" fill="#131722" text-anchor="middle">24</text>
<text x="1334.5" y="775" font-size="12" fill="#131722" text-anchor="middle" font-weight="bold">10月</text>
<text x="1396.5" y="775" font-size="12" fill="#131722" text-anchor="middle">7</text>
<text x="1458.5" y="775" font-size="12" fill="#131722" text-anchor="middle">13</text>
<text x="1520.5" y="775" font-size="12" fill="#131722" text-anchor="middle">17</text>
<text x="1581.5" y="775" font-size="12" fill="#131722" text-anchor="middle">23</text>
<text x="1690.5" y="775" font-size="12" fill="#131722" text-anchor="middle" font-weight="bold">11月</text>
<g fill="#131722"><path d="M11.9,807 H23.7 V821.7 H17.8 V813.2 H11.9 Z"/><circle cx="28.9" cy="809.8" r="2.8"/><path d="M33.6,807 H41.8 L36.4,821.7 H28.2 Z"/></g>
<text x="49.2" y="821.7" font-size="20.4" font-weight="bold" fill="#131722" textLength="120.3" lengthAdjust="spacingAndGlyphs">TradingView</text>
</svg></body></html>
